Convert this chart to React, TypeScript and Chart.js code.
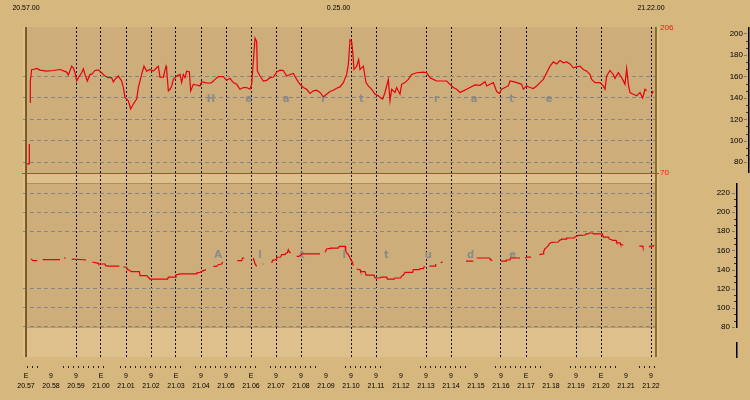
import React, { useEffect, useRef } from 'react';
import { Chart, registerables } from 'chart.js';

Chart.register(...registerables);

const FONT = '"Liberation Sans", Arial, sans-serif';
const BG = '#D6B77E';
const SHADE = '#CDAE7B';
const LIGHT = '#DDC08C';
const RED = '#E8000B';

// x axis: one tick per minute, seconds from 20:57:00
const minuteLabels = ['20.57','20.58','20.59','21.00','21.01','21.02','21.03','21.04','21.05','21.06','21.07','21.08','21.09','21.10','21.11','21.12','21.13','21.14','21.15','21.16','21.17','21.18','21.19','21.20','21.21','21.22'];
const minuteMarks = ['E','9','9','E','9','9','E','9','9','E','9','9','9','9','9','9','9','9','9','9','E','9','9','E','9','9'];
const gridMinutes = [2,3,4,5,6,7,8,9,10,11,13,14,16,17,19,20,22,23,25];
const minorTickRanges = [[2,31],[89,194],[226,377],[406,557],[586,694],[766,850],[946,1054],[1126,1234],[1306,1414],[1471,1510]];
const topLabels = ['20.57.00', '0.25.00', '21.22.00'];
const topLabelTimes = [0, 750, 1500];

// panel axes
const hrRange = [70, 206];
const hrAxisTicks = [200, 180, 160, 140, 120, 100, 80];
const hrGridValues = [160, 140, 120, 100, 80];
const altRange = [48.65, 240.9];
const altAxisTicks = [220, 200, 180, 160, 140, 120, 100, 80];
const altGridValues = [220, 200, 180, 120, 100, 80];
const hrTitle = 'Heart rate';
const altTitle = 'Altitude';

// heart rate series (seconds after 20:57:00, bpm)
const hrSeconds = [
  1.6, 7.2, 8.0, 8.8, 9.6, 10.4, 13.6, 17.6, 25.6, 33.6,
  49.6, 65.6, 81.6, 97.6, 101.6, 109.6, 113.6, 117.6, 121.6, 125.6,
  133.6, 137.6, 141.6, 147.2, 153.6, 157.6, 165.6, 173.6, 181.6, 189.6,
  197.6, 205.6, 209.6, 213.6, 221.6, 229.6, 233.6, 237.6, 245.6, 251.2,
  257.6, 265.6, 269.6, 273.6, 277.6, 283.2, 289.6, 297.6, 305.6, 313.6,
  317.6, 321.6, 329.6, 336.0, 337.6, 341.6, 345.6, 349.6, 353.6, 361.6,
  369.6, 373.6, 377.6, 381.6, 385.6, 392.0, 395.2, 401.6, 409.6, 417.6,
  421.6, 429.6, 437.6, 445.6, 453.6, 461.6, 473.6, 481.6, 489.6, 497.6,
  505.6, 513.6, 521.6, 529.6, 537.6, 541.6, 545.6, 549.6, 553.6, 555.2,
  561.6, 569.6, 577.6, 585.6, 593.6, 601.6, 609.6, 617.6, 625.6, 633.6,
  641.6, 649.6, 657.6, 665.6, 673.6, 681.6, 689.6, 697.6, 705.6, 713.6,
  721.6, 729.6, 737.6, 745.6, 753.6, 761.6, 769.6, 773.6, 777.6, 781.6,
  784.0, 787.2, 793.6, 798.4, 801.6, 809.6, 816.0, 821.6, 829.6, 837.6,
  845.6, 849.6, 856.0, 861.6, 869.6, 873.6, 877.6, 885.6, 889.6, 897.6,
  901.6, 909.6, 917.6, 925.6, 937.6, 953.6, 961.6, 969.6, 977.6, 985.6,
  1009.6, 1017.6, 1025.6, 1033.6, 1041.6, 1049.6, 1057.6, 1065.6, 1077.6, 1089.6,
  1101.6, 1105.6, 1113.6, 1121.6, 1129.6, 1136.0, 1141.6, 1149.6, 1157.6, 1161.6,
  1169.6, 1177.6, 1189.6, 1193.6, 1201.6, 1209.6, 1217.6, 1225.6, 1233.6, 1241.6,
  1249.6, 1257.6, 1265.6, 1273.6, 1281.6, 1289.6, 1297.6, 1305.6, 1313.6, 1321.6,
  1329.6, 1337.6, 1345.6, 1353.6, 1357.6, 1365.6, 1377.6, 1385.6, 1389.6, 1393.6,
  1401.6, 1409.6, 1413.6, 1421.6, 1429.6, 1437.6, 1441.6, 1445.6, 1449.6, 1457.6,
  1465.6, 1473.6, 1480.0, 1485.6, 1489.6, 1495.0, 1501.6, 1505.6,
];
const hrValues = [
  78.5, 78.5, 97, null, 135.8, 155.7, 166.4, 166.4, 167.4, 165.8,
  164.9, 165.5, 166.4, 164, 161.2, 169.5, 168, 163.4, 155.7, 158.8,
  163.4, 167, 161.8, 155.7, 161.8, 161.8, 165.5, 166.1, 163.4, 160.3,
  158.8, 158.8, 154.8, 157.2, 160.3, 155.7, 149.6, 140.4, 137.3, 129.7,
  134.3, 138.9, 149.6, 155.7, 161.8, 169.5, 164.9, 166.4, 164.9, 168,
  169.5, 159.4, 159.4, 169.5, 166.4, 146.5, 148, 151.1, 157.2, 160.3,
  161.8, 154.2, 161.8, 158.8, 164.9, 164.3, 146.5, 152.6, 152, 151.1,
  155.1, 154.2, 153.6, 154.2, 157.2, 159.7, 159.7, 156.3, 158.2, 154.2,
  152.6, 148, 149.6, 149.6, 148, 152.6, 174.1, 195.6, 192.5, 164.9,
  160.3, 155.7, 156.3, 158.8, 159.4, 164, 165.8, 165.5, 160.3, 161.8,
  162.8, 157.2, 152.6, 149.6, 148, 144.1, 146.5, 147.1, 145, 141,
  143.4, 145.9, 147.1, 149, 150.2, 154.2, 161.8, 171, 194, 192.5,
  183.3, 166.4, 169.5, 175.6, 166.4, 169.5, 154.2, 151.1, 148, 143.4,
  141.9, 140.4, 138.9, 145, 157.2, 137.3, 148, 145, 149.6, 143.4,
  152.6, 154.2, 157.2, 161.8, 163.4, 164, 163.4, 158.8, 157.2, 155.7,
  155.7, 152.6, 149.6, 148, 145, 146.5, 148, 149.6, 152, 151.7,
  155.1, 151.1, 152.6, 154.2, 145.9, 144.1, 148, 149.6, 151.1, 155.7,
  155.1, 154.2, 152.6, 148, 151.1, 149.6, 148.7, 151.1, 154.2, 157.2,
  163.4, 169.5, 173.5, 171.6, 174.7, 172.6, 173.5, 171.6, 168, 168.9,
  169.5, 166.4, 164.9, 161.8, 157.2, 154.2, 154.2, 151.1, 148, 160.3,
  165.5, 161.8, 158.2, 163.4, 158.8, 152.6, 167.4, 152.6, 145, 143.4,
  141.9, 145, 139.8, 148, 146.5, null, 143.4, 146.5,
];

// altitude series (seconds after 20:57:00, metres)
const altSeconds = [
  12.0, 17.6, 27.2, 33, 40.0, 81.6, 86, 91.2, 95.2, 102,
  109.6, 141.6, 143.2, 150, 159.2, 173.6, 174.4, 189.6, 191.2, 196,
  224, 228, 233.6, 240, 241.6, 245.6, 253.6, 272, 273.6, 289.6,
  297.6, 340, 341.6, 357.6, 360, 369.6, 408, 409.6, 417.6, 421.6,
  432, 440, 449.6, 457.6, 461.6, 469.6, 472, 490, 507.2, 517.6,
  520, 524, 535, 545.6, 549.6, 553.6, 560, 568, 569.6, 580,
  589.6, 592, 600, 601.6, 611.2, 613.6, 621.6, 624, 627.2, 629.6,
  632, 635.2, 642, 649.6, 655.2, 659.2, 661.6, 705.6, 712, 717.6,
  721.6, 729.6, 731.2, 749.6, 752, 765.6, 767.2, 769.6, 773.6, 777.6,
  784, 785.6, 790, 793.6, 801.6, 803.2, 813.6, 816, 835.2, 837.6,
  849.6, 852, 865.6, 867.2, 883.2, 885.6, 899.2, 900.8, 905.6, 909.6,
  928, 929.6, 944, 945.6, 953.6, 955.2, 957.6, 962, 968, 981.6,
  983.2, 988, 995.2, 1000, 1020, 1056, 1073.6, 1077, 1081.6, 1112,
  1113.6, 1117.6, 1119.2, 1130, 1140, 1152, 1152.8, 1161.6, 1162.4, 1185.6,
  1190, 1197.6, 1203.2, 1212, 1220, 1232, 1241.6, 1242.4, 1245.6, 1249.6,
  1253.6, 1256, 1261.6, 1277.6, 1280, 1284, 1285.6, 1296, 1297.6, 1315.2,
  1317.6, 1321.6, 1323.2, 1329.6, 1341.6, 1344, 1349.6, 1352, 1360, 1361.6,
  1383.2, 1385.6, 1397.6, 1400, 1405.6, 1408, 1416, 1417.6, 1421.6, 1425.6,
  1427.2, 1433.6, 1450, 1472, 1480, 1480.8, 1488, 1496, 1497.6, 1505.6,
  1507.2,
];
const altValues = [
  151.0, 149.3, 149.3, null, 150.3, 150.3, null, 152.1, 152.1, null,
  151.0, 150.3, 149.3, null, 147.9, 146.5, 145.8, 145.8, 144.1, 143.7,
  143.7, null, 142.7, 142.7, 141.3, 139.9, 137.8, 137.8, 133.6, 133.6,
  130.1, 130.1, 132.2, 132.2, 134.3, 135.4, 135.4, 136.4, 137.1, 138.1,
  139.9, null, 143.4, 143.4, 145.1, 145.8, 147.9, null, 149.3, 149.3,
  152.1, 152.1, null, 152.1, 146.2, 143.4, null, 145.8, 145.8, null,
  146.9, 149.6, 150.3, 152.8, 153.1, 155.6, 155.6, 157.3, 157.3, 160.8,
  158.3, 157.3, null, 153.8, 153.8, 154.9, 156.3, 156.3, null, 158.0,
  161.5, 162.2, 162.5, 162.5, 164.3, 164.3, 159.7, 157.3, 155.6, 152.1,
  146.9, 144.1, null, 140.6, 139.9, 137.8, 137.8, 134.3, 134.3, 131.2,
  131.2, 132.2, 132.2, 130.1, 130.1, 131.2, 131.2, 132.9, 134.3, 137.1,
  137.1, 139.9, 139.9, 140.9, 140.9, 142.7, 143.0, null, 143.7, 143.7,
  145.8, null, 147.2, 147.9, null, 148.9, 148.9, null, 152.1, 152.1,
  151.0, 149.6, 149.6, null, 148.9, 148.9, 150.0, 150.0, 152.1, 152.1,
  null, 152.1, 153.1, 153.1, null, 155.6, 156.3, 159.0, 161.8, 163.2,
  165.0, 167.1, 168.5, 168.8, 170.5, 171.2, 171.9, 171.9, 173.0, 173.0,
  174.0, 174.7, 175.4, 175.8, 176.1, 177.2, 177.2, 178.2, 178.2, 177.2,
  177.2, 174.0, 174.0, 171.9, 171.2, 170.5, 170.5, 168.5, 167.8, 167.8,
  166.0, 165.7, null, 164.6, 164.6, 163.2, null, 163.2, 164.6, 164.6,
  165.7,
];

const hrPoints = hrSeconds.map((s, i) => ({ x: s, y: hrValues[i] }));
const altPoints = altSeconds.map((s, i) => ({ x: s, y: altValues[i] }));

const decorPlugin = {
  id: 'decor',
  afterLayout(chart: any) {
    const yHr = chart.scales.yHr;
    const yAlt = chart.scales.yAlt;
    yHr.right = yHr.left + 84;
    yHr.width = 84;
    yAlt.right = yAlt.left + 71;
    yAlt.width = 71;
    yHr._labelItemsCache = null;
    yAlt._labelItemsCache = null;
  },
  beforeDraw(chart: any) {
    const { ctx, chartArea: ca } = chart;
    const yHr = chart.scales.yHr;
    const yAlt = chart.scales.yAlt;
    const base = Math.round(yHr.getPixelForValue(hrRange[0]));
    const altLow = Math.round(yAlt.getPixelForValue(80));
    const w = ca.right - ca.left;
    ctx.save();
    ctx.fillStyle = BG;
    ctx.fillRect(0, 0, chart.width, chart.height);
    ctx.fillStyle = SHADE;
    ctx.fillRect(ca.left, ca.top, w, base - ca.top);
    ctx.fillStyle = LIGHT;
    ctx.fillRect(ca.left, base, w, ca.bottom - base);
    ctx.fillStyle = SHADE;
    ctx.fillRect(ca.left, base + 10, w, altLow - base - 10);
    ctx.strokeStyle = 'rgba(140,110,60,0.45)';
    ctx.lineWidth = 1;
    ctx.beginPath();
    ctx.moveTo(ca.left, base + 10.5);
    ctx.lineTo(ca.right, base + 10.5);
    ctx.moveTo(ca.left, altLow + 0.5);
    ctx.lineTo(ca.right, altLow + 0.5);
    ctx.stroke();
    ctx.fillStyle = LIGHT;
    ctx.fillRect(ca.left, ca.top, 2, ca.bottom - ca.top);
    ctx.fillRect(ca.right - 3, ca.top, 3, ca.bottom - ca.top);
    ctx.restore();
  },
  beforeDatasetsDraw(chart: any) {
    const { ctx } = chart;
    const x = chart.scales.x;
    const yHr = chart.scales.yHr;
    const yAlt = chart.scales.yAlt;
    ctx.save();
    ctx.fillStyle = '#8a8a8a';
    ctx.font = 'bold 10px "DejaVu Sans", sans-serif';
    ctx.textAlign = 'center';
    ctx.textBaseline = 'middle';
    const hx0 = x.getPixelForValue(444);
    const hStep = x.getPixelForValue(90.2) - x.getPixelForValue(0);
    const hy = yHr.getPixelForValue(138.5);
    hrTitle.split('').forEach((ch, i) => ctx.fillText(ch, hx0 + i * hStep, hy));
    const ax0 = x.getPixelForValue(460.8);
    const aStep = x.getPixelForValue(101) - x.getPixelForValue(0);
    const ay = yAlt.getPixelForValue(154.5);
    altTitle.split('').forEach((ch, i) => ctx.fillText(ch, ax0 + i * aStep, ay));
    ctx.restore();
  },
  afterDatasetsDraw(chart: any) {
    const { ctx, chartArea: ca } = chart;
    const yHr = chart.scales.yHr;
    const base = Math.round(yHr.getPixelForValue(hrRange[0]));
    const topY = Math.round(yHr.getPixelForValue(hrRange[1]));
    ctx.save();
    ctx.fillStyle = '#7B5B24';
    ctx.fillRect(ca.left + 2, ca.top, 2, ca.bottom - ca.top);
    ctx.fillStyle = '#8E6C30';
    ctx.fillRect(ca.right - 4, ca.top, 2, ca.bottom - ca.top);
    ctx.fillStyle = '#C8402C';
    ctx.fillRect(ca.left - 1, base, ca.right - ca.left + 1, 1);
    ctx.fillStyle = '#FF1010';
    ctx.font = '8px ' + FONT;
    ctx.textAlign = 'left';
    ctx.textBaseline = 'middle';
    ctx.fillText(String(hrRange[1]), ca.right + 1, topY + 1);
    ctx.fillText(String(hrRange[0]), ca.right + 1, base);
    ctx.restore();
  },
  afterDraw(chart: any) {
    const { ctx, chartArea: ca } = chart;
    const x = chart.scales.x;
    const yHr = chart.scales.yHr;
    const yAlt = chart.scales.yAlt;
    ctx.save();
    const axis = (scale: any, lineX: number, y0: number, y1: number, ticks: number[]) => {
      ctx.fillStyle = '#000';
      ctx.fillRect(lineX, y0, 1.5, y1 - y0);
      ctx.fillStyle = '#7a7a7a';
      ticks.forEach((v) => ctx.fillRect(lineX - 4, Math.round(scale.getPixelForValue(v)), 3, 1));
      ctx.fillStyle = '#333';
      for (let i = 0; i < ticks.length - 1; i++) {
        for (let k = 1; k < 3; k++) {
          const v = ticks[i] + ((ticks[i + 1] - ticks[i]) * k) / 3;
          ctx.fillRect(lineX - 2, Math.round(scale.getPixelForValue(v)), 2, 1);
        }
      }
    };
    axis(yHr, 748, Math.round(yHr.getPixelForValue(hrRange[1])), Math.round(yHr.getPixelForValue(hrRange[0])), hrAxisTicks);
    const altTop = Math.round(yHr.getPixelForValue(hrRange[0])) + 10;
    axis(yAlt, 736, altTop, Math.round(yAlt.getPixelForValue(80)) + 1, altAxisTicks);
    ctx.fillStyle = '#000';
    ctx.fillRect(736, ca.bottom - 15, 1.5, 16);
    ctx.fillStyle = '#222';
    minorTickRanges.forEach(([a, b]) => {
      for (let t = a; t <= b; t += 12) {
        ctx.fillRect(Math.round(x.getPixelForValue(t)), ca.bottom + 9, 1, 2);
      }
    });
    ctx.fillStyle = '#000';
    ctx.font = '7px ' + FONT;
    ctx.textAlign = 'center';
    ctx.textBaseline = 'middle';
    topLabels.forEach((t, i) => ctx.fillText(t, x.getPixelForValue(topLabelTimes[i]), 8));
    ctx.restore();
  },
};

export default function App() {
  const ref = useRef<HTMLCanvasElement | null>(null);
  useEffect(() => {
    document.body.style.margin = '0';
    document.body.style.background = BG;
    const canvas = ref.current;
    if (!canvas) return;
    const chart = new Chart(canvas, {
      type: 'line',
      data: {
        datasets: [
          { label: hrTitle, data: hrPoints as any, yAxisID: 'yHr', borderColor: RED, borderWidth: 1.2, pointRadius: 0, spanGaps: false, tension: 0 },
          { label: altTitle, data: altPoints as any, yAxisID: 'yAlt', borderColor: RED, borderWidth: 1.2, pointRadius: 0, spanGaps: false, tension: 0 },
        ],
      },
      options: {
        animation: false,
        responsive: false,
        maintainAspectRatio: false,
        layout: { padding: { left: 23, top: 27, right: 7, bottom: 0 } },
        plugins: { legend: { display: false }, tooltip: { enabled: false } },
        scales: {
          x: {
            type: 'linear',
            min: -7.2,
            max: 1519.2,
            afterBuildTicks: (s: any) => { s.ticks = minuteLabels.map((_, i) => ({ value: i * 60 })); },
            afterFit: (s: any) => { s.height = 43; },
            grid: {
              drawTicks: false,
              lineWidth: 1,
              color: (c: any) => (c.tick && gridMinutes.includes(Math.round(c.tick.value / 60)) ? '#111' : 'rgba(0,0,0,0)'),
            },
            border: { display: false, dash: [2, 2] },
            ticks: {
              autoSkip: false,
              maxRotation: 0,
              minRotation: 0,
              padding: 14,
              color: '#000',
              font: { family: FONT, size: 7, lineHeight: '10px' },
              callback: (v: any) => {
                const i = Math.round(Number(v) / 60);
                return [minuteMarks[i], minuteLabels[i]];
              },
            },
          },
          yHr: {
            type: 'linear',
            position: 'right',
            stack: 'panels',
            stackWeight: 146,
            min: hrRange[0],
            max: hrRange[1],
            afterBuildTicks: (s: any) => { s.ticks = hrAxisTicks.map((v) => ({ value: v })); },
            afterFit: (s: any) => { s.width = 84; },
            grid: {
              drawTicks: false,
              lineWidth: 1,
              color: (c: any) => (c.tick && hrGridValues.includes(c.tick.value) ? '#858585' : 'rgba(0,0,0,0)'),
            },
            border: { display: false, dash: [4, 3] },
            ticks: { crossAlign: 'far', padding: 0, color: '#000', font: { family: FONT, size: 8 } },
          },
          yAlt: {
            type: 'linear',
            position: 'right',
            stack: 'panels',
            stackWeight: 184,
            min: altRange[0],
            max: altRange[1],
            afterBuildTicks: (s: any) => { s.ticks = altAxisTicks.map((v) => ({ value: v })); },
            afterFit: (s: any) => { s.width = 84; },
            grid: {
              drawTicks: false,
              lineWidth: 1,
              color: (c: any) => (c.tick && altGridValues.includes(c.tick.value) ? '#858585' : 'rgba(0,0,0,0)'),
            },
            border: { display: false, dash: [4, 3] },
            ticks: { crossAlign: 'far', padding: 0, color: '#000', font: { family: FONT, size: 8 } },
          },
        },
      } as any,
      plugins: [decorPlugin],
    });
    return () => chart.destroy();
  }, []);
  return (
    <div style={{ position: 'fixed', left: 0, top: 0, width: 750, height: 400, background: BG }}>
      <canvas ref={ref} width={750} height={400} style={{ display: 'block', width: 750, height: 400 }} />
    </div>
  );
}
